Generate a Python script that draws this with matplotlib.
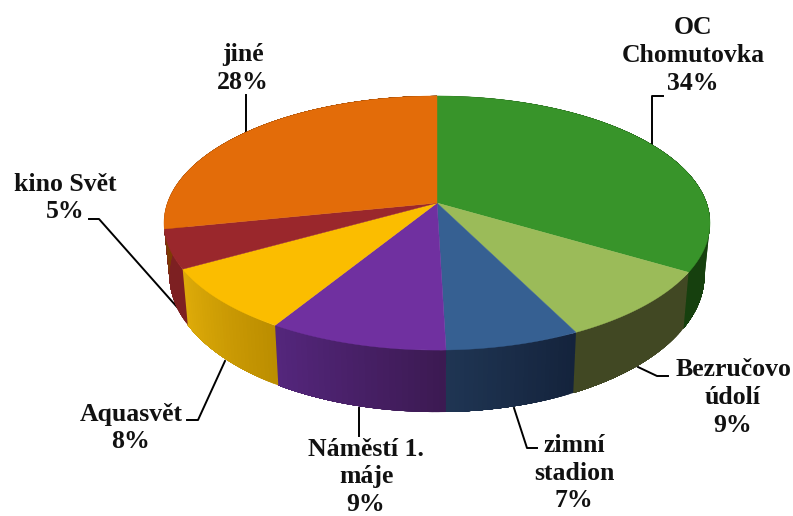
import numpy as np
import matplotlib
matplotlib.use("Agg")
import matplotlib.pyplot as plt
from matplotlib.colors import to_rgb

# slices clockwise from the top
names = ["OC\nChomutovka", "Bezručovo\núdolí", "zimní\nstadion", "Náměstí 1.\nmáje",
         "Aquasvět", "kino Svět", "jiné"]
shares = [33.6, 9.1, 6.85, 9.15, 8.1, 4.95, 28.25]

top_colors = ["#38942A", "#9BBB59", "#366092", "#7030A0", "#FBBD00", "#9A272C", "#E36C09"]
wall_start = ["#16400E", "#414823", "#14233C", "#3C1A52", "#BC8E00", "#7D2022", "#7D3A05"]
wall_end = ["#16400E", "#414823", "#1F3553", "#54267C", "#DEAB09", "#7D2022", "#7D3A05"]

label_xy = [(693, 55.5), (733, 397.5), (574, 473), (366, 477), (131, 428), (65, 198), (243, 68.5)]
leaders = [
    [(663, 96), (652, 96), (652, 148)],
    [(638, 367), (657, 376), (668, 376)],
    [(514, 408), (527, 448), (537, 448)],
    [(359, 408), (359, 436)],
    [(225, 361), (198, 420), (187, 420)],
    [(177, 307), (99, 219), (89, 219)],
    [(246, 95), (246, 133)],
]

# perspective of the pie disc, pixels around the apex
CX, CY = 437, 203
A, B, K = 269.6, 123.9, 0.1575


def top_rim(theta):
    w = 1 + K * np.cos(theta)
    return A * np.sin(theta) / w, B * np.cos(theta) / w


def bottom_rim(theta):
    u, v = top_rim(theta)
    return 0.98 * u, 1.077 * v - 50.7


def to_px(u, v):
    return CX + u, CY - v


fig = plt.figure(figsize=(7.93, 5.16), dpi=100)
ax = fig.add_axes([0, 0, 1, 1])
ax.set_xlim(0, 793)
ax.set_ylim(516, 0)
ax.axis("off")

edges = np.cumsum([0] + shares) / sum(shares) * 2 * np.pi

# side wall first, the top covers whatever is hidden
# each strip runs on to the end of its slice, so the next one paints over the seam
for i in range(len(shares)):
    steps = np.linspace(edges[i], edges[i + 1], 30)
    c0, c1 = np.array(to_rgb(wall_start[i])), np.array(to_rgb(wall_end[i]))
    for j in range(len(steps) - 1):
        t = np.linspace(steps[j], edges[i + 1], 40)
        x1, y1 = to_px(*top_rim(t))
        x2, y2 = to_px(*bottom_rim(t))
        col = c0 + (c1 - c0) * j / (len(steps) - 2)
        ax.fill(np.r_[x1, x2[::-1]], np.r_[y1, y2[::-1]], color=col, lw=0, zorder=2)

for i in range(len(shares)):
    t = np.linspace(edges[i], edges[i + 1], 120)
    x, y = to_px(*top_rim(t))
    ax.fill(np.r_[CX, x], np.r_[CY, y], color=top_colors[i], lw=0.3, zorder=3)

for pts in leaders:
    xs, ys = zip(*pts)
    ax.plot(xs, ys, color="black", lw=1.4, zorder=1, solid_joinstyle="round")

for name, share, (x, y) in zip(names, shares, label_xy):
    ax.text(x, y, f"{name}\n{share:.0f}%", ha="center", va="center", family="Liberation Serif",
            weight="bold", fontsize=18.5, color="#111111", linespacing=1.27, zorder=4)

fig.savefig("out.png", dpi=100)
